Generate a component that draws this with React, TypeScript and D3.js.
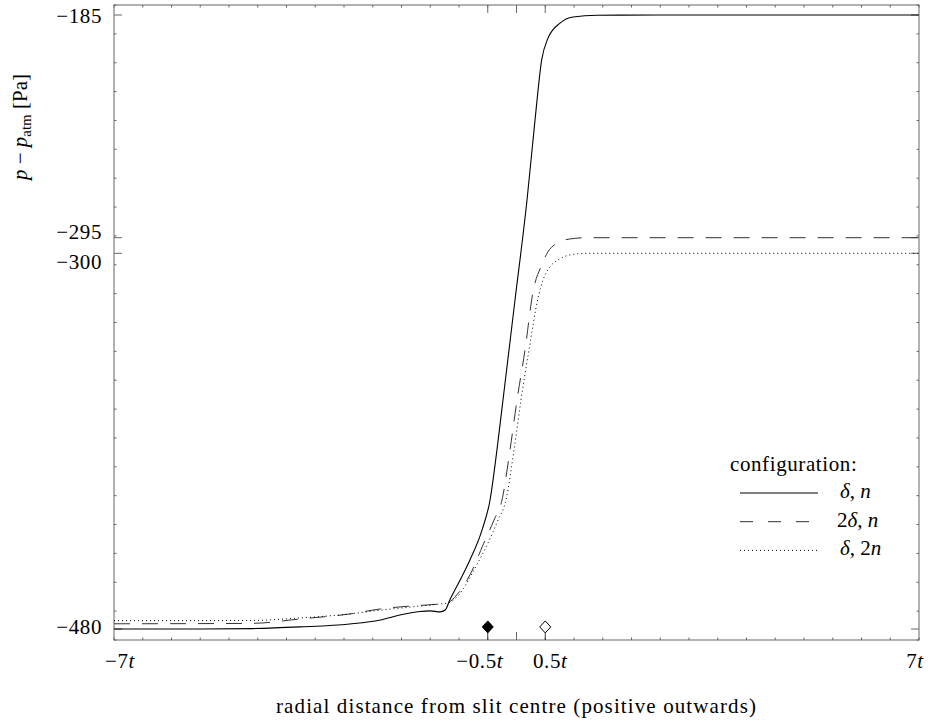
import * as d3 from "d3";
import * as React from "react";

const W = 928;
const H = 723;
const frame = { left: 114, right: 919, top: 5, bottom: 640 };
const FONT = "'Liberation Serif', 'Times New Roman', serif";

// pressure curves [radial position in t, p - p_atm in Pa]
const curveDeltaN: [number, number][] = [
  [-7, -480], [-5.5, -480], [-4.6, -479.8], [-3.77, -479.0], [-2.9, -477.6],
  [-2.37, -475.7], [-2.03, -473.3], [-1.68, -471.6], [-1.5, -471.3], [-1.33, -471.8],
  [-1.24, -470.9], [-1.16, -466.1], [-0.98, -456.5], [-0.81, -446.9], [-0.6, -432.6],
  [-0.46, -418.2], [-0.34, -394.2], [-0.235, -370.3], [-0.026, -322.4], [0.183, -276.4],
  [0.322, -236.9], [0.438, -207.2], [0.548, -196.4], [0.757, -189.0], [0.983, -186.0],
  [1.4, -185.1], [2.5, -185], [7, -185],
];

const curve2DeltaN: [number, number][] = [
  [-7, -477.5], [-4.6, -477.3], [-3.77, -475.2], [-2.9, -472.8], [-2.37, -470.4],
  [-1.85, -469.0], [-1.33, -468.0], [-1.21, -467.6], [-1.04, -463.7], [-0.81, -454.1],
  [-0.583, -439.8], [-0.391, -427.8], [-0.252, -418.2], [-0.113, -394.2], [0.009, -370.3],
  [0.148, -346.3], [0.287, -318.5], [0.438, -305.6], [0.548, -299.5], [0.722, -296.6],
  [0.93, -295.4], [1.226, -295.0], [7, -295.0],
];

const curveDelta2N: [number, number][] = [
  [-7, -476.0], [-4.6, -475.9], [-3.77, -474.7], [-2.9, -472.8], [-2.37, -471.0],
  [-1.85, -469.5], [-1.33, -468.0], [-1.21, -467.6], [-1.03, -464.5], [-0.866, -458.0],
  [-0.692, -449.3], [-0.513, -439.8], [-0.322, -427.8], [-0.183, -418.2], [-0.043, -394.2],
  [0.078, -370.3], [0.217, -346.3], [0.374, -321.4], [0.461, -312.8], [0.583, -306.4],
  [0.722, -303.2], [0.93, -300.8], [1.226, -300.0], [7, -300.0],
];

const seriesLabels = ["δ, n", "2δ, n", "δ, 2n"];

const yTicks = [-185, -295, -300, -480];
const yTickLabels = ["−185", "−295", "−300", "−480"];
const yLabelShift = [1, -6, 8, -2];

const xTicks = [-7, -0.5, 0.5, 7];
const xTickNums = ["−7", "−0.5", "0.5", "7"];
const xLabelShift = [6, -8, 5, -4];

const markerT = [-0.5, 0.5];
const markerP = -479;

export default function App() {
  const x = d3.scaleLinear().domain([-7, 7]).range([frame.left, frame.right]);
  const y = d3
    .scaleLinear()
    .domain([-480, -300, -295, -185])
    .range([629, 253.3, 237.7, 15]);

  const line = d3
    .line<[number, number]>()
    .x(d => x(d[0]))
    .y(d => y(d[1]))
    .curve(d3.curveMonotoneX);

  const styles = [
    { stroke: "#000", dash: undefined as string | undefined, width: 1.1 },
    { stroke: "#333", dash: "16,12", width: 1 },
    { stroke: "#000", dash: "1,3", width: 1 },
  ];
  const curves = [curveDeltaN, curve2DeltaN, curveDelta2N];

  const minorX = d3.range(-7, 7.001, 0.5);
  const yMinor = d3.scaleLinear().domain([0, 22]).range([frame.bottom, frame.top]);
  const minorY = d3.range(0, 23);

  return (
    <svg
      width={W}
      height={H}
      style={{ position: "absolute", left: 0, top: 0, background: "#fff" }}
      fontFamily={FONT}
    >
      {/* minor ticks */}
      <g stroke="#666" strokeWidth={1}>
        {minorX.map((t, i) => (
          <g key={"mx" + i}>
            <line x1={x(t)} x2={x(t)} y1={frame.bottom} y2={frame.bottom - 2.5} />
            <line x1={x(t)} x2={x(t)} y1={frame.top} y2={frame.top + 2.5} />
          </g>
        ))}
        {minorY.map(k => (
          <g key={"my" + k}>
            <line x1={frame.left} x2={frame.left + 2.5} y1={yMinor(k)} y2={yMinor(k)} />
            <line x1={frame.right} x2={frame.right - 2.5} y1={yMinor(k)} y2={yMinor(k)} />
          </g>
        ))}
        {/* major y ticks */}
        {yTicks.map(v => (
          <g key={"yt" + v}>
            <line x1={frame.left} x2={frame.left + 8} y1={y(v)} y2={y(v)} />
            <line x1={frame.right} x2={frame.right - 8} y1={y(v)} y2={y(v)} />
          </g>
        ))}
        {/* major x ticks on top, centre tick at bottom */}
        {[-0.5, 0, 0.5].map(t => (
          <line key={"tt" + t} x1={x(t)} x2={x(t)} y1={frame.top} y2={frame.top + 8} />
        ))}
        <line x1={x(0)} x2={x(0)} y1={frame.bottom} y2={frame.bottom - 8} />
      </g>

      {/* frame */}
      <rect
        x={frame.left}
        y={frame.top}
        width={frame.right - frame.left}
        height={frame.bottom - frame.top}
        fill="none"
        stroke="#666"
        strokeWidth={1}
      />

      {/* curves */}
      {curves.map((c, i) => (
        <path
          key={"c" + i}
          d={line(c) || ""}
          fill="none"
          stroke={styles[i].stroke}
          strokeWidth={styles[i].width}
          strokeDasharray={styles[i].dash}
        />
      ))}

      {/* slit edge markers */}
      {markerT.map((t, i) => (
        <g key={"m" + i}>
          <line
            x1={x(t)}
            x2={x(t)}
            y1={y(markerP) + 6}
            y2={frame.bottom}
            stroke="#333"
            strokeWidth={1}
          />
          <path
            d={`M${x(t)},${y(markerP) - 6}L${x(t) + 5.5},${y(markerP)}L${x(t)},${y(markerP) + 6}L${x(t) - 5.5},${y(markerP)}Z`}
            fill={i === 0 ? "#000" : "#fff"}
            stroke="#000"
            strokeWidth={1}
          />
        </g>
      ))}

      {/* y tick labels */}
      {yTicks.map((v, i) => (
        <text
          key={"yl" + v}
          x={102}
          y={y(v) + yLabelShift[i]}
          dy="0.35em"
          textAnchor="end"
          fontSize={21}
          letterSpacing={0.6}
        >
          {yTickLabels[i]}
        </text>
      ))}

      {/* x tick labels */}
      {xTicks.map((t, i) => (
        <text
          key={"xl" + t}
          x={x(t) + xLabelShift[i]}
          y={668}
          textAnchor="middle"
          fontSize={21}
          letterSpacing={0.6}
        >
          {xTickNums[i]}
          <tspan fontStyle="italic">t</tspan>
        </text>
      ))}

      {/* axis titles */}
      <text
        x={516}
        y={713}
        textAnchor="middle"
        fontSize={21}
        textLength={480}
        lengthAdjust="spacing"
      >
        radial distance from slit centre (positive outwards)
      </text>
      <text transform="translate(27,74) rotate(-90)" textAnchor="end" fontSize={21}>
        <tspan fontStyle="italic">p</tspan>
        {" − "}
        <tspan fontStyle="italic">p</tspan>
        <tspan fontSize={15} dy={4}>atm</tspan>
        <tspan dy={-4}>{" [Pa]"}</tspan>
      </text>

      {/* legend */}
      <g fontSize={21}>
        <text x={730} y={471} letterSpacing={0.6}>configuration:</text>
        {seriesLabels.map((s, i) => {
          const ly = 493 + i * 28.7;
          const parts = s.split(", ");
          return (
            <g key={"lg" + i}>
              <line
                x1={740}
                x2={818}
                y1={ly}
                y2={ly}
                stroke={styles[i].stroke}
                strokeWidth={styles[i].width}
                strokeDasharray={styles[i].dash === "16,12" ? "13,15" : styles[i].dash}
              />
              <text x={i === 1 ? 837 : 840} y={ly + 5}>
                {parts[0].replace("δ", "")}
                <tspan fontStyle="italic">δ</tspan>
                {", "}
                {parts[1].replace("n", "")}
                <tspan fontStyle="italic">n</tspan>
              </text>
            </g>
          );
        })}
      </g>
    </svg>
  );
}
